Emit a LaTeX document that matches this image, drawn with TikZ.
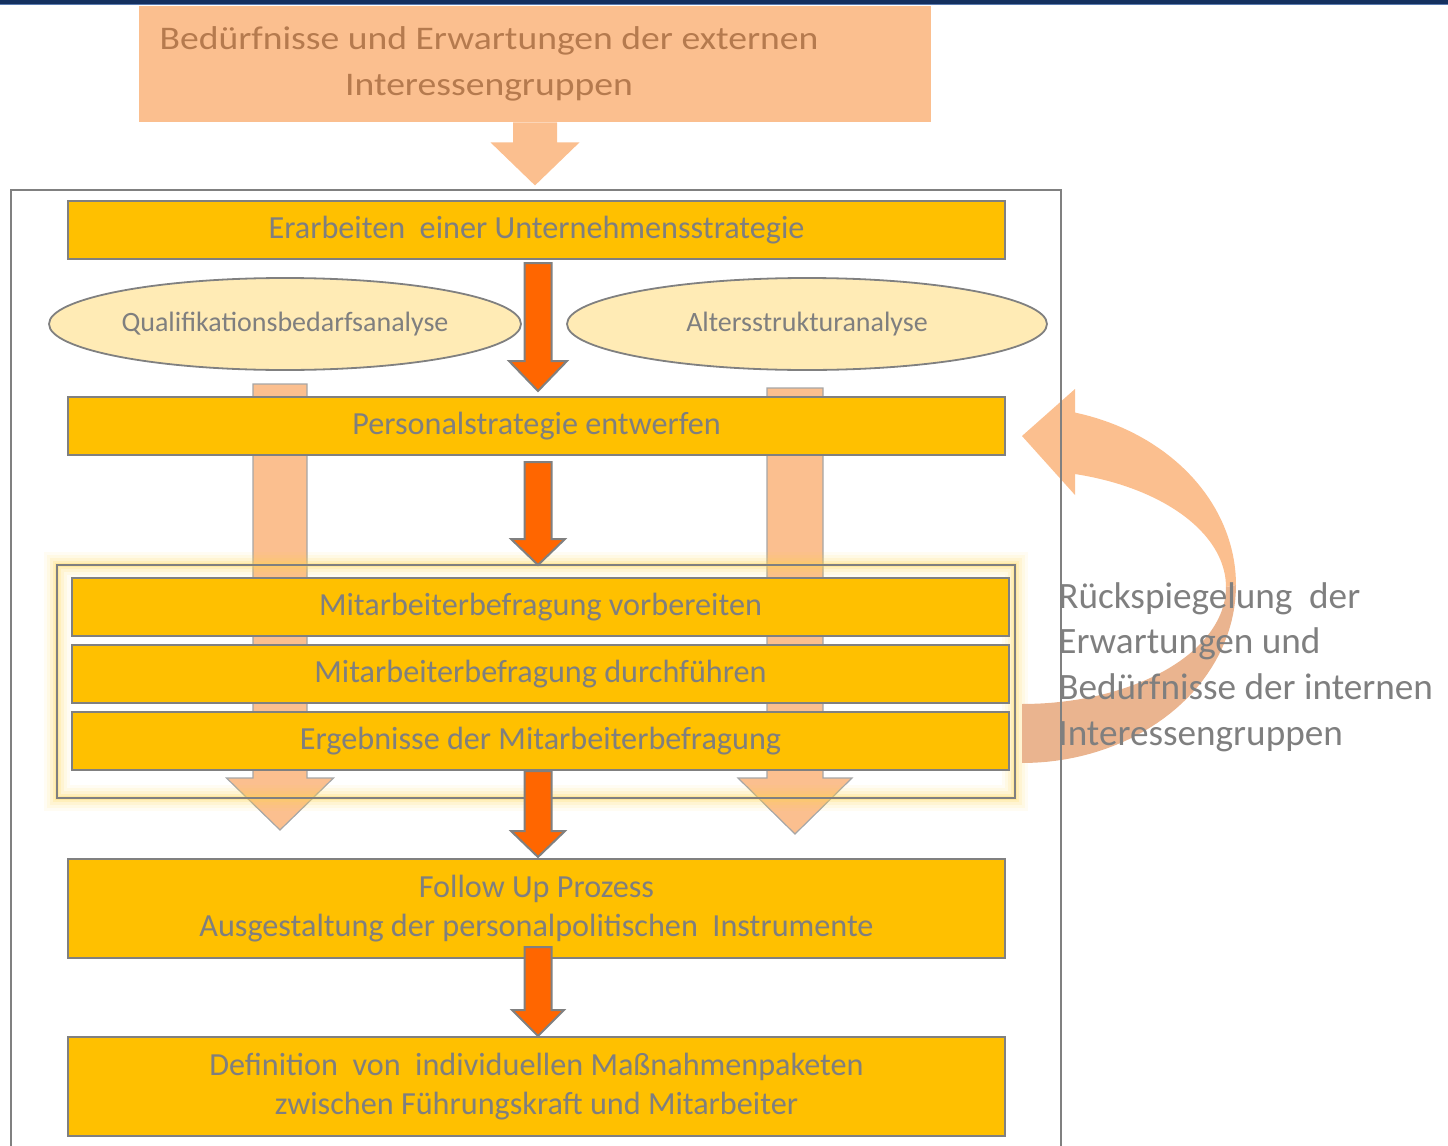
\documentclass[tikz,border=0pt]{standalone}
\usepackage{fontspec}
\setmainfont{Carlito}
\newfontfamily\widefont[FakeStretch=1.14]{Carlito}
\usetikzlibrary{calc,shapes.geometric}
\definecolor{peach}{HTML}{FBBF8F}
\definecolor{peachdark}{HTML}{EAB48F}
\definecolor{gold}{HTML}{FFC000}
\definecolor{cream}{HTML}{FFEBB5}
\definecolor{txtgray}{HTML}{7F7F7F}
\definecolor{linegray}{HTML}{808080}
\definecolor{brownish}{HTML}{B57A4E}
\definecolor{navy}{HTML}{14305F}
\definecolor{navylight}{HTML}{5A7BB0}
\definecolor{orangesix}{HTML}{FF6600}
\definecolor{glowy}{HTML}{FFD54F}

% #1 style, #2 start, #3 tip, #4 shaft half width, #5 head half width, #6 head length
\newcommand\blockdown[6]{%
  \path[#1] let \p1=#2, \p2=#3 in
    (\x2-#4,\y1) -- (\x2+#4,\y1) -- (\x2+#4,\y2+#6) -- (\x2+#5,\y2+#6)
    -- (\x2,\y2) -- (\x2-#5,\y2+#6) -- (\x2-#4,\y2+#6) -- cycle;}

\begin{document}
\begin{tikzpicture}[x=0.5pt,y=-0.5pt,
  box/.style={draw=linegray, line width=1pt, fill=gold, minimum width=468.5pt,
    minimum height=29pt, inner sep=0pt, text=txtgray,
    font=\fontsize{16.1}{19.5}\selectfont, align=center},
  oval/.style={ellipse, draw=linegray, line width=0.9pt, fill=cream, inner sep=0pt,
    text=txtgray, font=\fontsize{14}{16}\selectfont},
  orangearrow/.style={fill=orangesix, draw=linegray, line width=1pt, line join=miter},
  peacharrow/.style={fill=peach, draw=linegray!70, line width=0.6pt},
]
\useasboundingbox (0,0) rectangle (1448,1146);

% top navy line
\fill[navy] (0,0) rectangle (1448,3.5);
\draw[navylight, line width=0.6pt] (0,4.5) -- (1448,4.5);

% external box
\node[fill=peach, minimum width=396pt, minimum height=58pt, inner sep=0pt] (ext) at (535,64) {};
\node[text=brownish, font=\widefont\fontsize{16.5}{23}\selectfont, align=center, inner sep=0pt]
  (exttxt) at (489,64) {Bedürfnisse und Erwartungen der externen\\Interessengruppen};
\blockdown{fill=peach}{(ext.south)}{($(ext.south)+(0,63)$)}{11pt}{22.25pt}{21.5pt}

% peach side arrows
\coordinate (ltop) at (280,384);
\coordinate (ltip) at (280,830);
\coordinate (rtop) at (795,388);
\coordinate (rtip) at (795,834);
\blockdown{peacharrow}{(ltop)}{(ltip)}{13.5pt}{26.75pt}{26pt}
\blockdown{peacharrow}{(rtop)}{(rtip)}{14pt}{28.5pt}{28pt}

% glow frame
\foreach \w/\o in {13/0.07, 10/0.09, 7/0.12, 4/0.18, 2/0.25}
  \draw[glowy, line width=\w pt, opacity=\o] (57,565) rectangle (1015,798);
\draw[linegray, line width=1pt] (57,565) rectangle (1015,798);

% ellipses
\node[oval, minimum width=236pt, minimum height=46pt] (e1) at (285,324) {Qualifikationsbedarfsanalyse};
\node[oval, minimum width=240pt, minimum height=46pt] (e2) at (807,324) {Altersstrukturanalyse};

% boxes
\node[box] (b1) at (536.5,230) {Erarbeiten\ \ einer Unternehmensstrategie};
\node[box] (b2) at (536.5,426) {Personalstrategie entwerfen};
\node[box] (b3) at (540.5,607) {Mitarbeiterbefragung vorbereiten};
\node[box] (b4) at (540.5,674) {Mitarbeiterbefragung durchführen};
\node[box] (b5) at (540.5,741) {Ergebnisse der Mitarbeiterbefragung};
\node[box, minimum height=49.5pt] (b6) at (536.5,908.5) {Follow Up Prozess\\Ausgestaltung der personalpolitischen\ \ Instrumente};
\node[box, minimum height=49.5pt] (b7) at (536.5,1086.5) {Definition\ \ von\ \ individuellen Maßnahmenpaketen\\zwischen Führungskraft und Mitarbeiter};

% orange arrows
\blockdown{orangearrow}{($(b1.south)+(1.5,3)$)}{($(b2.north)+(1.5,-5)$)}{6.75pt}{14.5pt}{15pt}
\blockdown{orangearrow}{($(b2.south)+(1.5,6)$)}{($(b3.north)+(-2.5,-12)$)}{6.75pt}{13.5pt}{13pt}
\blockdown{orangearrow}{($(b5.south)+(-2.5,0)$)}{($(b6.north)+(1.5,-1)$)}{6.75pt}{13.5pt}{13pt}
\blockdown{orangearrow}{($(b6.south)+(1.5,-12)$)}{($(b7.north)+(1.5,0)$)}{6.75pt}{13pt}{13pt}

% curved feedback arrow
\fill[peachdark] plot[domain=0:-90, samples=40] ({1022+214*cos(\x)},{585-178*sin(\x)})
  -- plot[domain=-90:0, samples=40] ({1022+204*cos(\x)},{587-117*sin(\x)}) -- cycle;
\fill[peach] plot[domain=75.6:0, samples=40] ({1022+214*cos(\x)},{585-178*sin(\x)})
  -- plot[domain=0:74.9, samples=40] ({1022+204*cos(\x)},{587-117*sin(\x)})
  -- (1075,495) -- (1022,436) -- (1075,389) -- cycle;

% outer frame
\draw[linegray, line width=1pt] (11,1160) -- (11,190) -- (1061,190) -- (1061,1160);

% feedback text
\node[anchor=west, align=left, text=txtgray, font=\fontsize{18.6}{22.9}\selectfont, inner sep=0pt]
  (back) at (1058,667) {Rückspiegelung\ \ der\\Erwartungen und\\Bedürfnisse der internen\\Interessengruppen};
\end{tikzpicture}
\end{document}
